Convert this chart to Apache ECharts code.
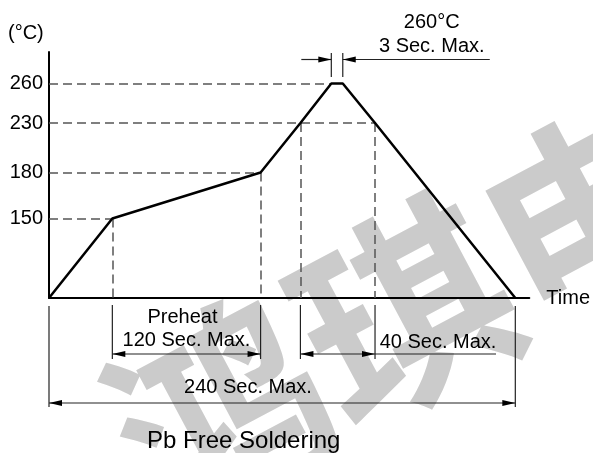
<!DOCTYPE html>
<html><head><meta charset="utf-8">
<script src="https://cdn.jsdelivr.net/npm/echarts@6/dist/echarts.min.js"></script>
<style>html,body{margin:0;padding:0;background:#fff}#c{width:593px;height:453px}</style>
</head><body><div id="c"></div>
<script>
// ---- Data read from the (not-to-scale) reflow profile diagram ----
const profileTime = [0, 32.6, 108.9, 129.4, 145.3, 151.2, 167.8, 240];   // diagram time positions (s)
const profileTemp = [25, 150, 180, 230, 260, 260, 230, 25];              // °C
const tempTicks = [150, 180, 230, 260];                                   // y tick labels
const tempTickLevels = [79.5, 125.5, 175, 214.5];                         // schematic heights of those ticks
const ambientLevel = 0;
const titleText = 'Pb Free Soldering';
const peakLabel = ['260°C', '3 Sec. Max.'];
const preheatLabel = ['Preheat', '120 Sec. Max.'];
const liquidusLabel = '40 Sec. Max.';
const totalLabel = '240 Sec. Max.';

const levelOf = t => { const i = tempTicks.indexOf(t); return i < 0 ? ambientLevel : tempTickLevels[i]; };
const curve = profileTime.map((t, i) => [t, levelOf(profileTemp[i])]);

const FONT = 'Liberation Sans, Arial, sans-serif';
const chart = echarts.init(document.getElementById('c'), null, {renderer: 'canvas'});

const dash = {type: [9, 5], color: '#555', width: 1.5};
const mk = (a, b) => [{coord: a}, {coord: b}];
const markData = [
  mk([0, curve[1][1]], curve[1]), mk(curve[1], [curve[1][0], 0]),
  mk([0, curve[2][1]], curve[2]), mk(curve[2], [curve[2][0], 0]),
  mk([0, curve[3][1]], curve[6]), mk(curve[3], [curve[3][0], 0]), mk(curve[6], [curve[6][0], 0]),
  mk([0, curve[4][1]], curve[4])
];

chart.setOption({
  animation: false,
  backgroundColor: '#fff',
  grid: {left: 49, right: 61, top: 52, bottom: 155},
  title: {text: titleText, left: 142, top: 424, textStyle: {fontFamily: FONT, fontSize: 24, fontWeight: 'normal', color: '#000'}},
  xAxis: {
    type: 'value', min: 0, max: 247.2,
    axisLine: {show: true, lineStyle: {color: '#000', width: 2}},
    axisTick: {show: false}, axisLabel: {show: false}, splitLine: {show: false},
    name: 'Time', nameLocation: 'end', nameGap: 17,
    nameTextStyle: {fontFamily: FONT, fontSize: 20, color: '#000', verticalAlign: 'middle', padding: [6, 0, 0, 0]}
  },
  yAxis: {
    type: 'value', min: 0, max: 246,
    axisLine: {show: true, lineStyle: {color: '#000', width: 2}},
    axisTick: {show: false}, splitLine: {show: false},
    axisLabel: {
      customValues: tempTickLevels, margin: 6,
      formatter: v => String(tempTicks[tempTickLevels.indexOf(v)]),
      fontFamily: FONT, fontSize: 20, color: '#000'
    }
  },
  series: [{
    type: 'line', data: curve, symbol: 'none', clip: false, z: 5,
    lineStyle: {color: '#000', width: 2.5},
    markLine: {silent: true, symbol: ['none', 'none'], label: {show: false}, lineStyle: dash, data: markData, z: 3}
  }]
});

// ---- annotations (dimension lines) placed through the chart's own scales ----
const X = t => chart.convertToPixel({xAxisIndex: 0}, t);
const Y = v => chart.convertToPixel({yAxisIndex: 0}, v);
const axisY = Y(0);
const g = [];
const LC = '#222';
function line(x1, y1, x2, y2, w) { g.push({type: 'line', shape: {x1, y1, x2, y2}, style: {stroke: LC, lineWidth: w || 1.2}, z: 10}); }
function arrow(x, y, dir) { g.push({type: 'polygon', shape: {points: [[x, y], [x - dir * 13, y - 3], [x - dir * 13, y + 3]]}, style: {fill: '#000'}, z: 10}); }
function text(x, y, s, align, size) { g.push({type: 'text', x, y, style: {text: s, fontFamily: FONT, fontSize: size || 20, fill: '#000', align: align || 'center', verticalAlign: 'middle'}, z: 10}); }

// watermark
g.push({type: 'text', x: 497, y: 262, rotation: 0.49, z: -10,
  style: {text: '鸿琪电子', fontFamily: 'Noto Sans CJK SC', fontWeight: 'bold', fontSize: 210, fill: '#cbcbcb', align: 'center', verticalAlign: 'middle'}});

// y unit
text(8, 33, '(°C)', 'left');

// peak dwell
const pS = X(profileTime[4]), pE = X(profileTime[5]), pY = Y(curve[4][1]);
line(pS, pY - 30.5, pS, pY - 6.5); line(pE, pY - 30.5, pE, pY - 6.5);
line(pS - 30, pY - 24, pS, pY - 24); arrow(pS, pY - 24, 1);
line(pE, pY - 24, pE + 147, pY - 24); arrow(pE, pY - 24, -1);
text(pE + 89, pY - 61, peakLabel[0]); text(pE + 89, pY - 37, peakLabel[1]);

// preheat
const hS = X(profileTime[1]), hE = X(profileTime[2]);
line(hS, axisY + 7, hS, axisY + 61); line(hE, axisY + 7, hE, axisY + 61);
line(hS, axisY + 56, hE, axisY + 56); arrow(hS, axisY + 56, -1); arrow(hE, axisY + 56, 1);
text((hS + hE) / 2 - 4, axisY + 19, preheatLabel[0]); text((hS + hE) / 2, axisY + 42, preheatLabel[1]);

// above 230
const lS = X(profileTime[3]), lE = X(profileTime[6]);
line(lS, axisY + 7, lS, axisY + 61); line(lE, axisY + 7, lE, axisY + 61);
line(lS, axisY + 56, lE + 121, axisY + 56); arrow(lS, axisY + 56, -1); arrow(lE, axisY + 56, 1);
text(lE + 63, axisY + 44, liquidusLabel);

// total
const tS = X(profileTime[0]), tE = X(profileTime[7]);
line(tS, axisY + 8, tS, axisY + 109); line(tE, axisY + 8, tE, axisY + 109);
line(tS, axisY + 105, tE, axisY + 105); arrow(tS, axisY + 105, -1); arrow(tE, axisY + 105, 1);
text(tS + 199, axisY + 89, totalLabel);

chart.setOption({graphic: g});
</script></body></html>
